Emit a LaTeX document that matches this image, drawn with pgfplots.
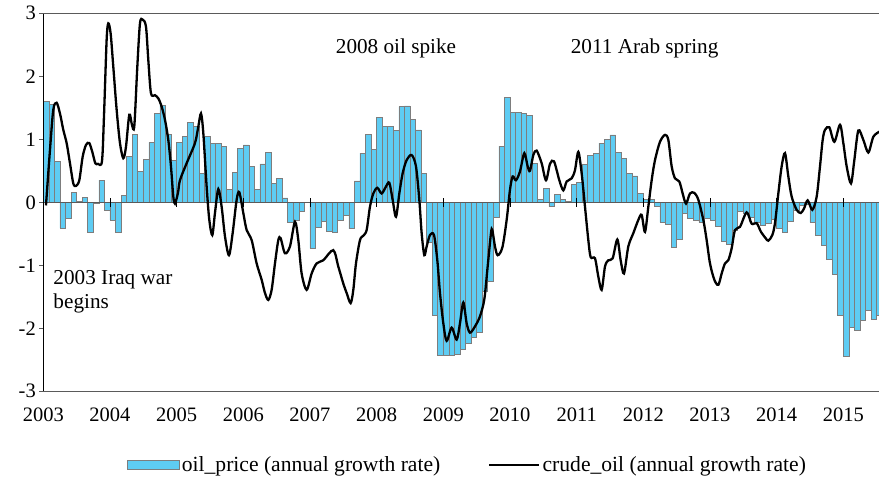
\documentclass[border=0pt]{standalone}
\usepackage{fontspec}
\setmainfont{Liberation Serif}
\usepackage{pgfplots}
\pgfplotsset{compat=1.18}
\usepackage{pgfplotstable}
\definecolor{barblue}{RGB}{94,204,243}
\definecolor{baredge}{RGB}{125,125,125}
\definecolor{framegray}{RGB}{90,90,90}

\pgfplotstableread{
y m v
2003 1 1.60
2003 2 1.56
2003 3 0.65
2003 4 -0.41
2003 5 -0.25
2003 6 0.16
2003 7 0.02
2003 8 0.08
2003 9 -0.48
2003 10 -0.02
2003 11 0.35
2003 12 -0.12
2004 1 -0.28
2004 2 -0.48
2004 3 0.11
2004 4 0.73
2004 5 1.08
2004 6 0.49
2004 7 0.68
2004 8 0.95
2004 9 1.41
2004 10 1.54
2004 11 1.08
2004 12 0.67
2005 1 0.95
2005 2 1.05
2005 3 1.27
2005 4 1.20
2005 5 0.46
2005 6 1.05
2005 7 0.94
2005 8 0.93
2005 9 0.89
2005 10 0.21
2005 11 0.48
2005 12 0.86
2006 1 0.91
2006 2 0.57
2006 3 0.20
2006 4 0.61
2006 5 0.79
2006 6 0.30
2006 7 0.38
2006 8 0.07
2006 9 -0.31
2006 10 -0.29
2006 11 -0.15
2006 12 0.00
2007 1 -0.73
2007 2 -0.40
2007 3 -0.30
2007 4 -0.46
2007 5 -0.47
2007 6 -0.28
2007 7 -0.21
2007 8 -0.42
2007 9 0.34
2007 10 0.78
2007 11 1.08
2007 12 0.84
2008 1 1.35
2008 2 1.20
2008 3 1.21
2008 4 1.14
2008 5 1.52
2008 6 1.53
2008 7 1.32
2008 8 1.15
2008 9 0.46
2008 10 -0.64
2008 11 -1.80
2008 12 -2.43
2009 1 -2.43
2009 2 -2.43
2009 3 -2.42
2009 4 -2.34
2009 5 -2.24
2009 6 -2.15
2009 7 -2.07
2009 8 -1.42
2009 9 -1.26
2009 10 -0.24
2009 11 0.89
2009 12 1.67
2010 1 1.43
2010 2 1.43
2010 3 1.41
2010 4 1.38
2010 5 0.62
2010 6 0.05
2010 7 0.22
2010 8 -0.07
2010 9 0.13
2010 10 0.05
2010 11 0.01
2010 12 0.29
2011 1 0.32
2011 2 0.60
2011 3 0.75
2011 4 0.77
2011 5 0.94
2011 6 1.00
2011 7 1.07
2011 8 0.79
2011 9 0.70
2011 10 0.46
2011 11 0.42
2011 12 0.14
2012 1 0.05
2012 2 0.04
2012 3 -0.07
2012 4 -0.32
2012 5 -0.35
2012 6 -0.71
2012 7 -0.58
2012 8 -0.17
2012 9 -0.25
2012 10 -0.28
2012 11 -0.32
2012 12 -0.25
2013 1 -0.28
2013 2 -0.38
2013 3 -0.62
2013 4 -0.66
2013 5 -0.45
2013 6 -0.15
2013 7 -0.17
2013 8 -0.24
2013 9 -0.31
2013 10 -0.36
2013 11 -0.33
2013 12 -0.27
2014 1 -0.41
2014 2 -0.48
2014 3 -0.30
2014 4 -0.13
2014 5 -0.04
2014 6 -0.03
2014 7 -0.32
2014 8 -0.53
2014 9 -0.69
2014 10 -0.90
2014 11 -1.15
2014 12 -1.80
2015 1 -2.44
2015 2 -1.98
2015 3 -2.03
2015 4 -1.88
2015 5 -1.72
2015 6 -1.86
2015 7 -1.80
}\oilprice

\pgfplotstableread{
t v
2003.04 -0.05
2003.10 0.83
2003.15 1.47
2003.20 1.58
2003.25 1.41
2003.30 1.15
2003.35 0.94
2003.40 0.62
2003.45 0.30
2003.49 0.26
2003.54 0.35
2003.59 0.72
2003.64 0.91
2003.69 0.94
2003.74 0.78
2003.78 0.62
2003.82 0.61
2003.88 0.65
2003.91 1.36
2003.95 2.58
2003.975 2.84
2004.01 2.68
2004.05 2.15
2004.10 1.47
2004.15 0.94
2004.20 0.70
2004.24 0.88
2004.29 1.39
2004.33 1.23
2004.365 1.21
2004.41 2.15
2004.45 2.84
2004.49 2.90
2004.54 2.79
2004.575 2.26
2004.615 1.73
2004.675 1.70
2004.725 1.65
2004.775 1.52
2004.825 1.31
2004.875 0.99
2004.915 0.57
2004.95 0.09
2004.975 -0.02
2005.02 0.15
2005.05 0.35
2005.15 0.62
2005.275 0.94
2005.325 1.20
2005.365 1.41
2005.40 1.10
2005.45 0.25
2005.49 -0.28
2005.535 -0.52
2005.575 -0.17
2005.625 0.21
2005.675 -0.07
2005.725 -0.54
2005.785 -0.84
2005.84 -0.49
2005.90 0.04
2005.94 0.16
2006.00 -0.17
2006.05 -0.44
2006.125 -0.60
2006.20 -0.97
2006.275 -1.23
2006.325 -1.44
2006.375 -1.55
2006.425 -1.39
2006.475 -0.97
2006.525 -0.60
2006.56 -0.57
2006.625 -0.81
2006.70 -0.70
2006.775 -0.31
2006.825 -0.60
2006.875 -1.13
2006.95 -1.39
2007.025 -1.13
2007.10 -0.97
2007.20 -0.92
2007.35 -0.76
2007.425 -1.02
2007.50 -1.29
2007.55 -1.44
2007.61 -1.60
2007.65 -1.39
2007.69 -0.97
2007.75 -0.60
2007.80 -0.53
2007.85 -0.44
2007.90 -0.07
2007.95 0.14
2008.01 0.23
2008.075 0.14
2008.14 0.25
2008.19 0.31
2008.24 0.04
2008.29 -0.23
2008.34 0.14
2008.39 0.46
2008.45 0.67
2008.525 0.75
2008.59 0.57
2008.64 0.04
2008.675 -0.49
2008.715 -0.84
2008.75 -0.70
2008.80 -0.52
2008.86 -0.52
2008.91 -0.92
2008.95 -1.44
2009.00 -1.92
2009.05 -2.20
2009.125 -1.99
2009.20 -2.18
2009.25 -1.92
2009.30 -1.59
2009.35 -1.92
2009.40 -2.07
2009.475 -1.97
2009.55 -1.81
2009.615 -1.54
2009.665 -1.02
2009.715 -0.49
2009.735 -0.44
2009.775 -0.70
2009.815 -0.84
2009.885 -0.72
2009.95 -0.28
2010.00 0.20
2010.04 0.41
2010.09 0.35
2010.15 0.49
2010.215 0.78
2010.265 0.57
2010.30 0.50
2010.35 0.75
2010.40 0.82
2010.475 0.62
2010.54 0.35
2010.60 0.61
2010.66 0.65
2010.74 0.35
2010.80 0.19
2010.85 0.33
2010.925 0.38
2010.975 0.51
2011.025 0.80
2011.075 0.46
2011.125 -0.07
2011.175 -0.60
2011.21 -0.87
2011.275 -0.89
2011.325 -1.18
2011.375 -1.39
2011.425 -1.02
2011.475 -0.92
2011.54 -0.89
2011.61 -0.59
2011.66 -0.92
2011.71 -1.13
2011.775 -0.70
2011.85 -0.49
2011.925 -0.28
2011.975 -0.20
2012.025 -0.47
2012.075 -0.07
2012.125 0.35
2012.175 0.67
2012.25 0.96
2012.325 1.07
2012.375 0.99
2012.425 0.57
2012.475 0.38
2012.54 0.33
2012.59 0.14
2012.64 -0.02
2012.70 0.14
2012.765 0.15
2012.825 0.04
2012.90 -0.28
2012.95 -0.60
2013.00 -0.97
2013.065 -1.23
2013.125 -1.31
2013.175 -1.13
2013.225 -0.97
2013.275 -0.92
2013.325 -0.73
2013.375 -0.44
2013.45 -0.39
2013.55 -0.16
2013.625 -0.34
2013.70 -0.33
2013.765 -0.47
2013.835 -0.57
2013.875 -0.61
2013.935 -0.52
2013.975 -0.33
2014.025 0.14
2014.075 0.57
2014.125 0.78
2014.175 0.41
2014.225 0.09
2014.30 -0.12
2014.36 -0.17
2014.41 -0.10
2014.465 0.03
2014.535 -0.12
2014.60 0.09
2014.65 0.57
2014.69 0.99
2014.725 1.15
2014.79 1.19
2014.865 0.96
2014.95 1.23
2015.00 0.94
2015.05 0.57
2015.115 0.30
2015.165 0.67
2015.225 1.14
2015.30 0.99
2015.375 0.79
2015.45 1.04
2015.54 1.12
}\crude

\begin{document}
\begin{tikzpicture}[font=\fontsize{21.2}{24}\selectfont]
\begin{axis}[name=ax, scale only axis, width=835.7pt, height=378pt,
  xmin=2003, xmax=2015.535, ymin=-3, ymax=3,
  axis line style={draw=none},
  xtick={2003,2004,2005,2006,2007,2008,2009,2010,2011,2012,2013,2014,2015},
  xticklabels={2003,2004,2005,2006,2007,2008,2009,2010,2011,2012,2013,2014,2015},
  ytick={-3,-2,-1,0,1,2,3},
  yticklabels={-3,-2,-1,0,1,2,3},
  major x tick style={draw=none},
  ytick pos=left, tick align=outside, major tick length=4pt,
  major y tick style={framegray, line width=0.8pt},
  ticklabel style={font=\fontsize{20.5}{24}\selectfont},
  xticklabel style={yshift=-9pt},
  legend style={at={(0.1002,-0.195)}, anchor=west, draw=none, fill=none,
    inner sep=0pt, font=\fontsize{21.6}{24}\selectfont,
    /tikz/every even column/.append style={column sep=46pt}},
  legend columns=2, legend cell align=left,
]
\addplot[ybar, bar width=0.08333, bar shift=0pt, fill=barblue, draw=baredge, line width=0.6pt,
  legend image code/.code={\draw[fill=barblue,draw=baredge,line width=0.6pt] (0pt,-4.5pt) rectangle (52pt,4.5pt);}]
  table[x expr=\thisrow{y}+(\thisrow{m}-0.5)/12, y=v] {\oilprice};
\addlegendentry{oil\_price (annual growth rate)}
\draw[framegray, line width=1.1pt] (axis cs:2003,0) -- (axis cs:2015.535,0);
\pgfplotsinvokeforeach{2004,2005,2006,2007,2008,2009,2010,2011,2012,2013,2014,2015}{
  \draw[black, line width=0.7pt] (axis cs:#1,-0.07) -- (axis cs:#1,0.07);
}
\addplot[black, line width=2.3pt, smooth, tension=0.5,
  legend image code/.code={\draw[black,line width=2.3pt] (0pt,0pt) -- (50pt,0pt);}]
  table[x=t, y=v] {\crude};
\addlegendentry{crude\_oil (annual growth rate)}
\node at (axis cs:2008.29,2.44) {2008 oil spike};
\node at (axis cs:2012.02,2.44) {2011 Arab spring};
\node[anchor=west, align=left, inner sep=0pt, font=\fontsize{21.2}{24}\selectfont] at (axis cs:2003.15,-1.42) {2003 Iraq war\\begins};
\end{axis}
\draw[black, line width=1pt] (ax.south west) -- (ax.north west);
\draw[framegray, line width=1pt] (ax.north west) -- (ax.north east);
\draw[framegray, line width=1pt] (ax.south west) -- (ax.south east);
\path (ax.south west) ++(-43.3pt,-86.7pt) coordinate (bl);
\path (ax.north east) ++(0pt,13.3pt) coordinate (tr);
\pgfresetboundingbox
\useasboundingbox (bl) rectangle (tr);
\end{tikzpicture}
\end{document}
